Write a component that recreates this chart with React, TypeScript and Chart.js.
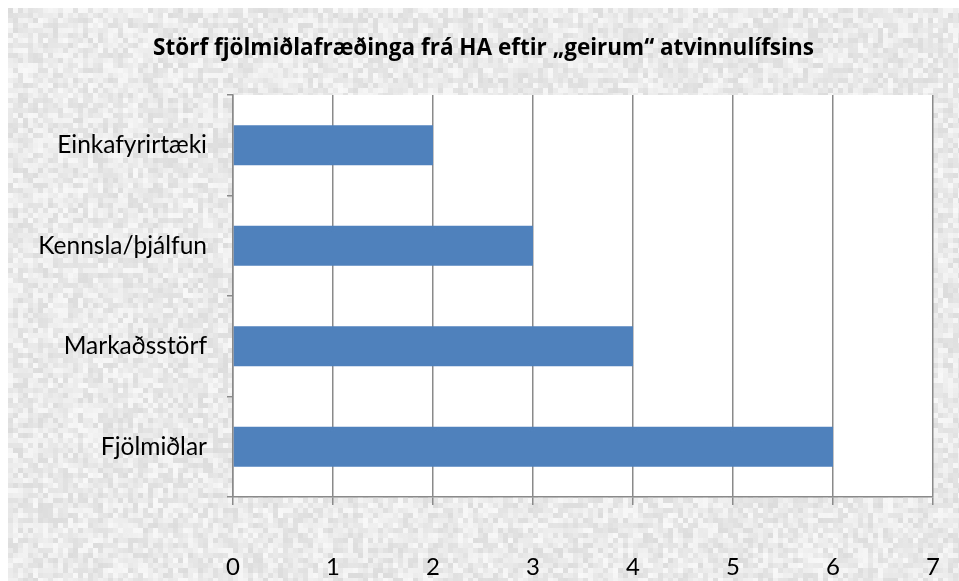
import React, { useEffect, useRef } from "react";
import { Chart, registerables } from "chart.js";

Chart.register(...registerables);

const title = "Störf fjölmiðlafræðinga frá HA eftir „geirum“ atvinnulífsins";
const categories = ["Einkafyrirtæki", "Kennsla/þjálfun", "Markaðsstörf", "Fjölmiðlar"];
const values = [2, 3, 4, 6];
const xTicks = [0, 1, 2, 3, 4, 5, 6, 7];

const FONT = "Lato, 'Open Sans', sans-serif";
const TITLE_FONT = "'Open Sans', Lato, sans-serif";
const GRID = "#8a8a8a";

function hash(x: number, y: number) {
  let h = (x * 374761393 + y * 668265263) | 0;
  h = (h ^ (h >>> 13)) * 1274126177;
  h = h ^ (h >>> 16);
  return ((h >>> 0) % 1000) / 1000;
}

const bgPlugin = {
  id: "texture",
  beforeDraw(chart: any) {
    const { ctx, width, height, chartArea } = chart;
    ctx.save();
    ctx.fillStyle = "#e6e6e6";
    ctx.fillRect(0, 0, width, height);
    const s = 5;
    for (let y = 0; y < height; y += s) {
      for (let x = 0; x < width; x += s) {
        const v = Math.round(220 + hash(x / s, y / s) * 28);
        ctx.fillStyle = `rgb(${v},${v},${v})`;
        ctx.fillRect(x, y, s, s);
      }
    }
    ctx.fillStyle = "#ffffff";
    ctx.fillRect(chartArea.left, chartArea.top, chartArea.right - chartArea.left, chartArea.bottom - chartArea.top);
    ctx.restore();
  },
};

export default function App() {
  const ref = useRef<HTMLCanvasElement | null>(null);
  useEffect(() => {
    if (!ref.current) return;
    const chart = new Chart(ref.current, {
      type: "bar",
      data: {
        labels: categories,
        datasets: [
          {
            data: values,
            backgroundColor: "#4f81bd",
            barPercentage: 0.4,
            categoryPercentage: 1,
          },
        ],
      },
      plugins: [bgPlugin],
      options: {
        indexAxis: "y",
        animation: false,
        responsive: true,
        maintainAspectRatio: false,
        layout: { padding: 0 },
        plugins: {
          legend: { display: false },
          tooltip: { enabled: false },
          title: {
            display: true,
            text: title,
            color: "#000",
            font: { family: TITLE_FONT, size: 22.5, weight: "bold", lineHeight: 1.2 },
            padding: { top: 27, bottom: 33 },
          },
        },
        scales: {
          x: {
            min: 0,
            max: 7,
            afterBuildTicks(scale: any) {
              scale.ticks = xTicks.map((v) => ({ value: v }));
            },
            afterFit(scale: any) {
              scale.height = 84;
              scale.paddingLeft = 0;
              scale.paddingRight = 26;
            },
            grid: {
              display: true,
              drawOnChartArea: true,
              drawTicks: true,
              tickLength: 8,
              color: GRID,
              lineWidth: 1.5,
            },
            border: { display: true, color: GRID, width: 1.5 },
            ticks: {
              color: "#000",
              padding: 48,
              font: { family: FONT, size: 24 },
            },
          },
          y: {
            afterFit(scale: any) {
              scale.width = 225;
            },
            grid: {
              display: true,
              offset: true,
              drawOnChartArea: false,
              drawTicks: true,
              tickLength: 6,
              color: GRID,
              lineWidth: 1.5,
            },
            border: { display: true, color: GRID, width: 1.5 },
            ticks: {
              color: "#000",
              padding: 20,
              font: { family: FONT, size: 24.5 },
            },
          },
        },
      },
    });
    return () => chart.destroy();
  }, []);
  return (
    <div style={{ position: "absolute", left: 8, top: 8, width: 951, height: 573 }}>
      <canvas ref={ref} />
    </div>
  );
}
